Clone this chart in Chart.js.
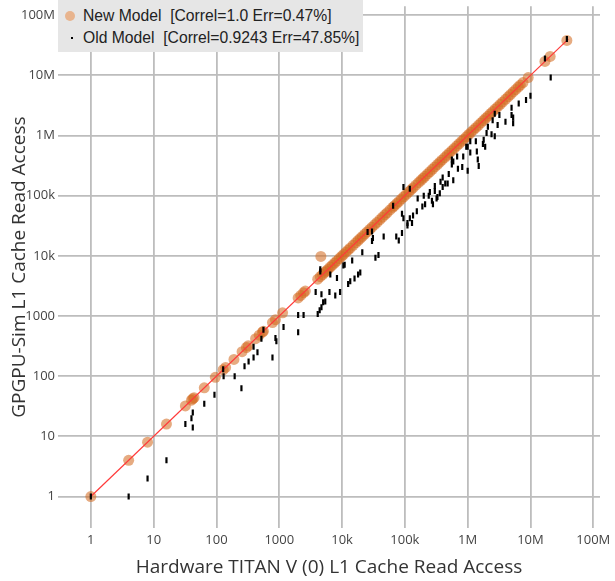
<!DOCTYPE html>
<html>
<head>
<meta charset="utf-8">
<script src="https://cdn.jsdelivr.net/npm/chart.js@4.4.1/dist/chart.umd.min.js"></script>
<style>
  body { margin: 0; background: #fff; }
  #wrap { position: relative; width: 615px; height: 581px; }
  #legend { position: absolute; left: 58px; top: 0; width: 305px; height: 52px; background: #e6e6e6;
            font-family: "Liberation Sans", Arial, sans-serif; font-size: 15.7px; color: #222; }
  .row { position: absolute; left: 0; height: 20px; line-height: 20px; white-space: pre; }
  .txt { position: absolute; left: 25px; top: 0; }
  .mk1 { position: absolute; left: 7px; top: 5px; width: 10px; height: 10px; border-radius: 50%; background: #e8b48e; }
  .mk2 { position: absolute; left: 13px; top: 9px; width: 2px; height: 2px; background: #000; }
</style>
</head>
<body>
<div id="wrap">
  <canvas id="chart" width="615" height="581"></canvas>
  <div id="legend">
    <div class="row" style="top:6px"><span class="mk1"></span><span class="txt">New Model  [Correl=1.0 Err=0.47%]</span></div>
    <div class="row" style="top:28px"><span class="mk2"></span><span class="txt">Old Model  [Correl=0.9243 Err=47.85%]</span></div>
  </div>
</div>
<script>
// tick values / labels (both axes)
const tickVals = [1, 10, 100, 1000, 1e4, 1e5, 1e6, 1e7, 1e8];
const tickLabels = ['1', '10', '100', '1000', '10k', '100k', '1M', '10M', '100M'];

// new model (hardware, simulated)
const newX = [1, 4, 8, 16, 32, 40, 42, 44, 64, 96, 128, 140, 190, 256, 300, 320, 420, 480, 540, 560, 780, 870, 1130,
  2000, 2200, 2440, 2600, 4100, 4500, 4600, 4900, 5300, 5600, 6000, 6500, 7000, 7600, 8200, 9000, 9800, 10500, 11500,
  12500, 13500, 15000, 16500, 18000, 19500, 21000, 23000, 25000, 27500, 30000, 33000, 36000, 40000, 44000, 48000,
  52000, 58000, 64000, 68000, 74000, 80000, 88000, 96000, 105000, 115000, 125000, 135000, 150000, 165000, 180000,
  195000, 210000, 230000, 250000, 275000, 300000, 330000, 360000, 390000, 430000, 470000, 510000, 560000, 610000,
  670000, 730000, 800000, 870000, 950000, 1040000, 1130000, 1240000, 1350000, 1480000, 1620000, 1770000, 1930000,
  2100000, 2300000, 2500000, 2750000, 3000000, 3300000, 3600000, 4000000, 4400000, 4800000, 5300000, 5800000,
  6400000, 6900000, 7600000, 9200000, 17000000, 20600000, 38000000];
const newY = [1, 4, 8, 16, 32, 40, 42, 44, 64, 96, 128, 140, 190, 256, 300, 320, 420, 480, 540, 560, 780, 870, 1130,
  2000, 2200, 2440, 2600, 4100, 4500, 9800, 4900, 5300, 5600, 6000, 6500, 7000, 7600, 8200, 9000, 9800, 10500, 11500,
  12500, 13500, 15000, 16500, 18000, 19500, 21000, 23000, 25000, 27500, 30000, 33000, 36000, 40000, 44000, 48000,
  52000, 58000, 64000, 68000, 74000, 80000, 88000, 96000, 105000, 115000, 125000, 135000, 150000, 165000, 180000,
  195000, 210000, 230000, 250000, 275000, 300000, 330000, 360000, 390000, 430000, 470000, 510000, 560000, 610000,
  670000, 730000, 800000, 870000, 950000, 1040000, 1130000, 1240000, 1350000, 1480000, 1620000, 1770000, 1930000,
  2100000, 2300000, 2500000, 2750000, 3000000, 3300000, 3600000, 4000000, 4400000, 4800000, 5300000, 5800000,
  6400000, 6900000, 7600000, 9200000, 17000000, 20600000, 38000000];

// old model
const oldX = [1, 4, 8, 16, 32, 40, 42, 42, 64, 93, 250, 128, 130, 195, 280, 325, 390, 450, 390, 520, 560, 780, 870, 900,
  1170, 2000, 2000, 2440, 4100, 4400, 4700, 5000, 5400, 3800, 4700, 4500, 4500, 6500, 8300, 9300, 7800, 6300, 12500,
  13500, 15800, 18000, 19500, 10500, 11000, 14500, 21000, 34000, 38000, 30000, 31000, 25500, 46000, 73000, 80000,
  30000, 65000, 90000, 90000, 95000, 110000, 120000, 135000, 110000, 130000, 95000, 120000, 160000, 200000, 210000,
  250000, 300000, 320000, 280000, 360000, 370000, 440000, 500000, 590000, 560000, 700000, 820000, 1000000, 850000,
  1000000, 1100000, 1400000, 1450000, 1500000, 1800000, 1900000, 2100000, 2000000, 2400000, 2700000, 2500000,
  3000000, 3200000, 4000000, 5000000, 5300000, 5300000, 5000000, 6500000, 8500000, 10000000, 17000000, 21000000,
  38000000, 2700000, 560000, 680000, 950000, 1100000, 1350000, 1750000, 155000, 190000, 240000, 270000, 330000,
  300000, 400000, 480000, 400000, 590000];
const oldY = [1, 1, 2, 4, 16, 20, 25, 14, 35, 49, 63, 130, 100, 100, 146, 176, 205, 250, 310, 420, 590, 205, 430, 380,
  660, 1040, 540, 1040, 1080, 1250, 1400, 1700, 1750, 2500, 2300, 5500, 6000, 4900, 4300, 2500, 2200, 2500, 3400,
  3800, 4200, 4900, 5300, 6900, 7100, 8400, 11500, 9300, 10300, 17600, 19800, 25000, 21000, 21000, 18000,
  25500, 68000, 24000, 50000, 42000, 35000, 42000, 47000, 32000, 35000, 140000, 130000, 90000, 100000, 72000,
  115000, 120000, 90000, 72000, 110000, 170000, 160000, 230000, 180000, 330000, 280000, 300000, 260000, 450000,
  650000, 520000, 540000, 400000, 310000, 850000, 650000, 1400000, 1100000, 1050000, 970000, 1800000,
  1500000, 2200000, 1700000, 2200000, 2000000, 1600000, 2900000, 3400000, 3900000, 4600000, 19000000, 9200000,
  40000000, 2300000, 400000, 450000, 650000, 800000, 800000, 720000, 55000, 66000, 100000, 82000, 95000,
  145000, 140000, 160000, 200000, 370000];

// y = x reference line ends
const lineX = [1, 40000000];

const toPts = (xs, ys) => xs.map((x, i) => ({ x: x, y: ys[i] }));

function axis(title, isX) {
  return {
    type: 'logarithmic',
    position: isX ? 'bottom' : 'left',
    min: 0.31,
    max: isX ? 1.28e8 : 1.41e8,
    grid: { color: '#bdbdbd', lineWidth: 1.8, drawTicks: false },
    border: { display: false },
    ticks: {
      autoSkip: false, maxRotation: 0,
      padding: isX ? 4 : 3,
      color: '#444',
      font: { family: 'Open Sans', size: 13 },
      callback: (v, i) => tickLabels[i]
    },
    afterBuildTicks: s => { s.ticks = tickVals.map(v => ({ value: v })); },
    afterFit: s => {
      if (isX) { s.height = 53; s.paddingLeft = 0; s.paddingRight = 0; }
      else { s.width = 58; s.paddingTop = 0; s.paddingBottom = 0; }
    },
    title: {
      display: true, text: title, color: '#333',
      font: { family: 'Open Sans', size: 19 },
      padding: isX ? { top: 0, bottom: 2 } : { top: 8, bottom: 0 }
    }
  };
}

new Chart(document.getElementById('chart'), {
  type: 'scatter',
  data: {
    datasets: [
      { label: 'Old Model', data: toPts(oldX, oldY), pointStyle: 'line', rotation: 90, pointRadius: 3,
        borderColor: '#000', borderWidth: 2.2, order: 1 },
      { label: 'y=x', type: 'line', data: toPts(lineX, lineX), borderColor: '#ff3a3a', borderWidth: 1.2,
        pointRadius: 0, order: 2 },
      { label: 'New Model', data: toPts(newX, newY), pointRadius: 5.5, backgroundColor: 'rgba(210,105,30,0.56)',
        borderWidth: 0, order: 3 }
    ]
  },
  options: {
    responsive: false,
    animation: false,
    events: [],
    layout: { padding: { left: 0, right: 15, top: 0, bottom: 0 } },
    plugins: { legend: { display: false }, tooltip: { enabled: false } },
    scales: {
      x: axis('Hardware TITAN V (0) L1 Cache Read Access', true),
      y: axis('GPGPU-Sim L1 Cache Read Access', false)
    }
  }
});
</script>
</body>
</html>
